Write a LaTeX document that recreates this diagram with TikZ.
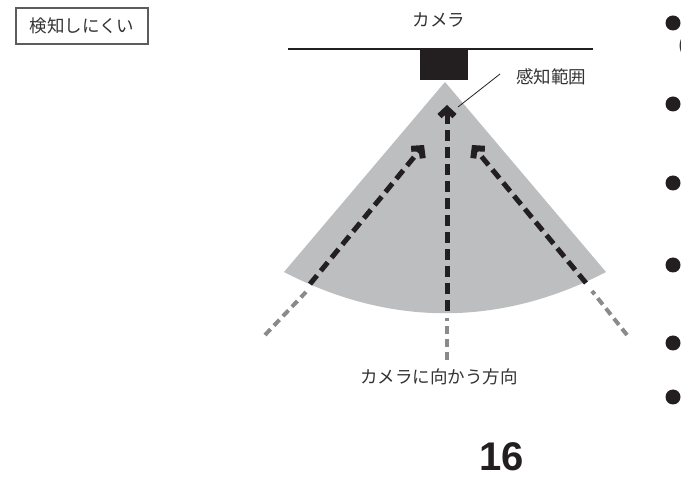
\documentclass[tikz,border=0pt]{standalone}
\usepackage{fontspec}
\setmainfont{Noto Sans CJK JP}
\newfontfamily\numfont{Liberation Sans}
\usetikzlibrary{arrows.meta, positioning}
\definecolor{inkblack}{HTML}{231F20}
\definecolor{inkgray}{HTML}{333333}
\definecolor{zonegray}{HTML}{BCBEC0}
\definecolor{pathgray}{HTML}{8A8A8A}

\begin{document}
\begin{tikzpicture}[x=1pt, y=-1pt,
    label/.style={text=inkgray, font=\fontsize{17.5}{20}\selectfont, inner sep=0pt},
    walk/.style={draw=inkblack, line width=5pt, dash pattern=on 11pt off 6pt, -{Straight Barb[length=7pt, width=15pt, line width=6pt 0, sharp]}},
    approach/.style={draw=pathgray, line width=4pt, dash pattern=on 8pt off 5pt}]
    \useasboundingbox (0,0) rectangle (681,478);
    \node[label, draw=inkgray!80, line width=1.1pt, minimum width=132pt, minimum height=36pt] (hard) at (82,26) {検知しにくい};
    \node[label] (cam) at (439,20) {カメラ};
    \draw[inkblack, line width=2pt] (288,49) -- (593,49);
    \fill[inkblack] (420,48) rectangle (468,80);
    \coordinate (apex) at (445,82);
    \coordinate (cornerL) at (284,272);
    \coordinate (cornerR) at (606,272);
    \fill[zonegray] (apex) -- (cornerL) .. controls (390,327) and (500,327) .. (cornerR) -- cycle;
    \node[label, anchor=west] (zone) at (516,77) {感知範囲};
    \coordinate (leadA) at (500,74);
    \coordinate (leadB) at (458,107);
    \draw[inkblack, line width=0.8pt] (leadA) -- (leadB);
    \coordinate (inC) at (447,311);
    \coordinate (tipC) at (447,105);
    \coordinate (outC) at (447,318);
    \coordinate (farC) at (447,360);
    \coordinate (inL) at (310,284);
    \coordinate (tipL) at (424,145);
    \coordinate (outL) at (306,292);
    \coordinate (farL) at (265,335);
    \coordinate (inR) at (586,283);
    \coordinate (tipR) at (472,145);
    \coordinate (outR) at (592,291);
    \coordinate (farR) at (627,335);
    \draw[walk] (inC) -- (tipC);
    \draw[walk] (inL) -- (tipL);
    \draw[walk] (inR) -- (tipR);
    \draw[approach] (farC) -- (outC);
    \draw[approach] (farL) -- (outL);
    \draw[approach] (farR) -- (outR);
    \node[label] (toward) at (439,377) {カメラに向かう方向};
    \node[text=inkblack, inner sep=0pt, font=\numfont\bfseries\fontsize{40}{42}\selectfont] (page) at (502,457) {16};
    \foreach \y [count=\i] in {23,104,183,265,343,397}
        \fill[inkblack] (673,\y) circle (7.5pt) coordinate (bullet\i);
    \node[label, anchor=west] (cut) at (678,46) {(};
\end{tikzpicture}
\end{document}
